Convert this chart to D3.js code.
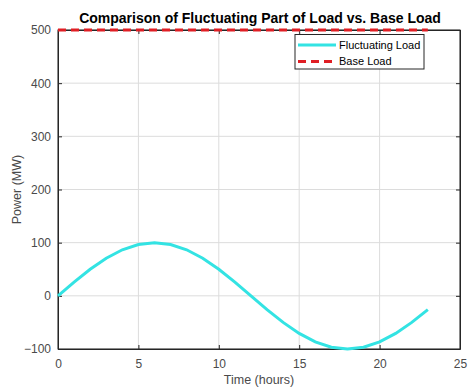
<!DOCTYPE html>
<html>
<head>
<meta charset="utf-8">
<script src="https://cdn.jsdelivr.net/npm/d3@7"></script>
<style>
  body { margin: 0; background: #fff; }
  svg { display: block; font-family: "Liberation Sans", Arial, sans-serif; }
</style>
</head>
<body>
<svg width="468" height="387"></svg>
<script>
// hours 0..23
var hours = [0, 1, 2, 3, 4, 5, 6, 7, 8, 9, 10, 11, 12, 13, 14, 15, 16, 17, 18, 19, 20, 21, 22, 23];
var fluctuating = [0, 25.9, 50, 70.7, 86.6, 96.6, 100, 96.6, 86.6, 70.7, 50, 25.9, 0,
  -25.9, -50, -70.7, -86.6, -96.6, -100, -96.6, -86.6, -70.7, -50, -25.9];
var baseLoad = [500, 500, 500, 500, 500, 500, 500, 500, 500, 500, 500, 500, 500,
  500, 500, 500, 500, 500, 500, 500, 500, 500, 500, 500];
var xTicks = [0, 5, 10, 15, 20, 25];
var yTicks = [-100, 0, 100, 200, 300, 400, 500];
var seriesNames = ["Fluctuating Load", "Base Load"];

var svg = d3.select("svg"),
  margin = {top: 30, right: 8, bottom: 38, left: 58},
  width = +svg.attr("width") - margin.left - margin.right,
  height = +svg.attr("height") - margin.top - margin.bottom;

var x = d3.scaleLinear().domain([0, 25]).range([0, width]),
  y = d3.scaleLinear().domain([-100, 500]).range([height, 0]);

var g = svg.append("g")
  .attr("transform", "translate(" + margin.left + "," + margin.top + ")");

// grid
g.append("g").selectAll("line")
  .data(xTicks).enter().append("line")
  .attr("x1", function(d) { return x(d); })
  .attr("x2", function(d) { return x(d); })
  .attr("y1", 0).attr("y2", height)
  .attr("stroke", "#dcdcdc").attr("stroke-width", 1);
g.append("g").selectAll("line")
  .data(yTicks).enter().append("line")
  .attr("y1", function(d) { return y(d); })
  .attr("y2", function(d) { return y(d); })
  .attr("x1", 0).attr("x2", width)
  .attr("stroke", "#dcdcdc").attr("stroke-width", 1);

// box
g.append("rect")
  .attr("width", width).attr("height", height)
  .attr("fill", "none").attr("stroke", "#262626").attr("stroke-width", 1);

// axes (ticks inward)
g.append("g")
  .attr("transform", "translate(0," + height + ")")
  .call(d3.axisBottom(x).tickValues(xTicks).tickSizeInner(-4).tickSizeOuter(0).tickPadding(10));
g.append("g")
  .call(d3.axisLeft(y).tickValues(yTicks).tickSizeInner(-4).tickSizeOuter(0).tickPadding(7));
g.append("g")
  .attr("transform", "translate(" + width + ",0)")
  .call(d3.axisRight(y).tickValues(yTicks).tickSizeInner(-4).tickSizeOuter(0).tickFormat(""));
g.append("g")
  .call(d3.axisTop(x).tickValues(xTicks).tickSizeInner(-4).tickSizeOuter(0).tickFormat(""));

g.selectAll(".domain").attr("stroke", "#262626");
g.selectAll(".tick line").attr("stroke", "#262626");
g.selectAll(".tick text")
  .attr("font-size", 12)
  .attr("font-family", "Liberation Sans, Arial, sans-serif")
  .attr("fill", "#4a4a4a");

// lines
var line = d3.line()
  .x(function(d) { return x(d[0]); })
  .y(function(d) { return y(d[1]); });

g.append("path")
  .datum(d3.zip(hours, fluctuating))
  .attr("fill", "none")
  .attr("stroke", "#33e3e3")
  .attr("stroke-width", 3)
  .attr("d", line);

g.append("path")
  .datum(d3.zip(hours, baseLoad))
  .attr("fill", "none")
  .attr("stroke", "#e01e24")
  .attr("stroke-width", 3)
  .attr("stroke-dasharray", "8,5")
  .attr("d", line);

// title and labels
svg.append("text")
  .attr("x", margin.left + width / 2 + 1).attr("y", 23)
  .attr("text-anchor", "middle")
  .attr("font-size", 14).attr("font-weight", "bold")
  .attr("fill", "#000")
  .text("Comparison of Fluctuating Part of Load vs. Base Load");

svg.append("text")
  .attr("x", margin.left + width / 2).attr("y", 384)
  .attr("text-anchor", "middle")
  .attr("font-size", 12.5).attr("fill", "#4a4a4a")
  .text("Time (hours)");

svg.append("text")
  .attr("transform", "translate(21," + (margin.top + height / 2) + ") rotate(-90)")
  .attr("text-anchor", "middle")
  .attr("font-size", 12.5).attr("fill", "#4a4a4a")
  .text("Power (MW)");

// legend
var legend = g.append("g").attr("transform", "translate(237,4.5)");
legend.append("rect")
  .attr("width", 129).attr("height", 34.5)
  .attr("fill", "#fff").attr("stroke", "#262626").attr("stroke-width", 1);
var styles = [
  {stroke: "#33e3e3", width: 3, dash: null},
  {stroke: "#e01e24", width: 3, dash: "8,5"}
];
legend.selectAll(".entry")
  .data(seriesNames).enter().append("g")
  .attr("class", "entry")
  .attr("transform", function(d, i) { return "translate(0," + (10.5 + i * 16.5) + ")"; })
  .each(function(d, i) {
    var e = d3.select(this);
    e.append("line")
      .attr("x1", 3).attr("x2", 41)
      .attr("stroke", styles[i].stroke)
      .attr("stroke-width", styles[i].width)
      .attr("stroke-dasharray", styles[i].dash);
    e.append("text")
      .attr("x", 44).attr("dy", "0.35em")
      .attr("font-size", 11).attr("fill", "#000")
      .text(d);
  });
</script>
</body>
</html>
